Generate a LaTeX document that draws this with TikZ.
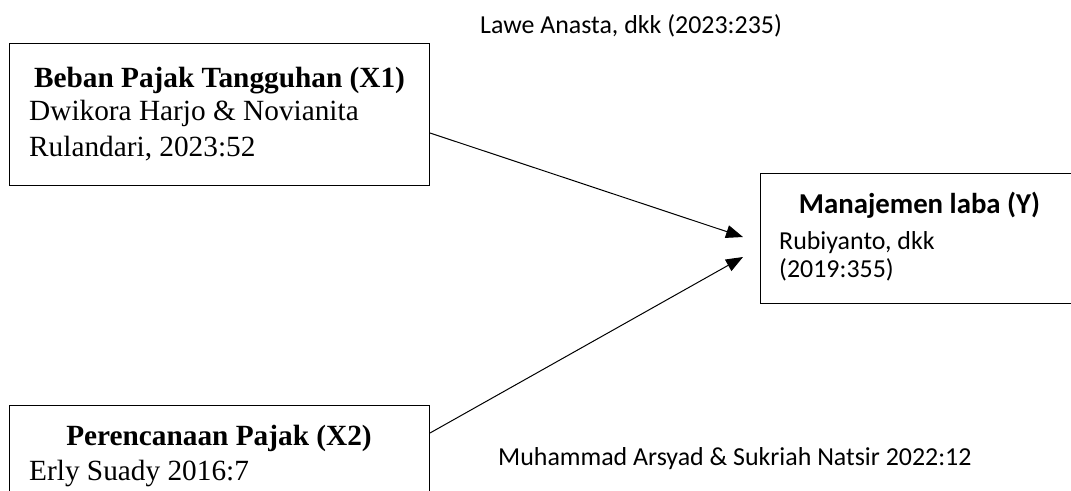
\documentclass[tikz,border=0pt]{standalone}
\usepackage{fontspec}
\setmainfont{Liberation Serif}
\newfontfamily\calfont{Carlito}
\usetikzlibrary{arrows.meta}
\tikzset{
  boxnode/.style={draw, line width=1pt, inner sep=0pt, anchor=north west},
  conn/.style={line width=1pt, -{Triangle[length=17pt,width=13pt]}},
  tnr/.style={inner sep=0pt, font=\fontsize{29.3}{35}\selectfont},
  tnrb/.style={inner sep=0pt, anchor=base, font=\fontsize{29.3}{35}\selectfont\bfseries},
  cal/.style={inner sep=0pt, anchor=base west, font=\calfont\fontsize{25.9}{32}\selectfont},
  calb/.style={inner sep=0pt, anchor=base, font=\calfont\fontsize{28.8}{32}\selectfont\bfseries},
}
\begin{document}
\begin{tikzpicture}[x=1pt,y=-1pt]
\useasboundingbox (0,0) rectangle (1071,490);
\clip (0,0) rectangle (1071,490);
\fill[white] (0,0) rectangle (1071,490);
% boxes
\node[boxnode, minimum width=420pt, minimum height=142pt] (x1) at (9,43) {};
\node[boxnode, minimum width=420pt, minimum height=150pt] (x2) at (9,405) {};
\node[boxnode, minimum width=320pt, minimum height=130pt] (y) at (760,173) {};
% texts X1
\node[tnrb] (x1t) at (219.5,87) {Beban Pajak Tangguhan (X1)};
\node[tnr, anchor=base west] (x1a) at (29,120) {Dwikora Harjo \& Novianita};
\node[tnr, anchor=base west] (x1b) at (29,156) {Rulandari, 2023:52};
% texts X2
\node[tnrb] (x2t) at (219,445) {Perencanaan Pajak (X2)};
\node[tnr, anchor=base west] (x2a) at (29,480) {Erly Suady 2016:7};
% texts Y
\node[calb] (yt) at (919.5,213) {Manajemen laba (Y)};
\node[cal] (ya) at (779,249) {Rubiyanto, dkk};
\node[cal] (yb) at (779,277) {(2019:355)};
% citations
\node[cal] (c1) at (480,33) {Lawe Anasta, dkk (2023:235)};
\node[cal] (c2) at (498,465) {Muhammad Arsyad \& Sukriah Natsir 2022:12};
% connectors
\coordinate (s1) at (x1.east |- 0,133);
\coordinate (s2) at (x2.east |- 0,433);
\coordinate (e1) at (743,237);
\coordinate (e2) at (743,257);
\draw[conn] (s1) -- (e1);
\draw[conn] (s2) -- (e2);
\end{tikzpicture}
\end{document}
